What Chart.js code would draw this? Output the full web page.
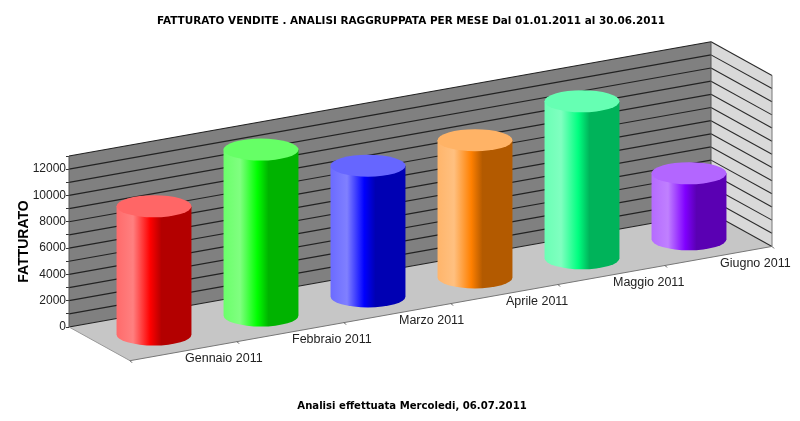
<!DOCTYPE html>
<html>
<head>
<meta charset="utf-8">
<title>Fatturato vendite</title>
<script src="https://cdn.jsdelivr.net/npm/chart.js@4"></script>
<style>
  html, body { margin: 0; padding: 0; background: #fff; }
  canvas { display: block; }
</style>
</head>
<body>
<canvas id="chart" width="800" height="421"></canvas>
<script>
/* ── Data ─────────────────────────────────────────────────────── */
const mesi      = ['Gennaio 2011', 'Febbraio 2011', 'Marzo 2011', 'Aprile 2011', 'Maggio 2011', 'Giugno 2011'];
const fatturato = [9790, 12650, 9980, 10470, 11980, 5060];

/* ── Style ────────────────────────────────────────────────────── */
const barHues   = ['#ff0000', '#00ff00', '#0000ff', '#ff8000', '#00ff80', '#8000ff'];
const titolo    = 'FATTURATO VENDITE . ANALISI RAGGRUPPATA PER MESE Dal 01.01.2011 al 30.06.2011';
const piede     = 'Analisi effettuata Mercoledi, 06.07.2011';

const SLOPE = 0.178;   // rise of the back wall per px of x
const DEPTH_X = 61;    // floor depth, oblique projection
const DEPTH_Y = 33.7;
const RY = 11;         // cylinder ellipse

function mix(hex, target, k) {
  const c = [1, 3, 5].map(i => parseInt(hex.slice(i, i + 2), 16));
  const out = c.map(v => Math.round(v + (target - v) * k));
  return `rgb(${out[0]},${out[1]},${out[2]})`;
}
const lighter = (hex, k) => mix(hex, 255, k);
const darker  = (hex, k) => mix(hex, 0, k);

/* ── 3D box: floor + walls ────────────────────────────────────── */
function poly(ctx, pts, fill) {
  ctx.beginPath();
  pts.forEach((p, i) => i ? ctx.lineTo(p[0], p[1]) : ctx.moveTo(p[0], p[1]));
  ctx.closePath();
  ctx.fillStyle = fill;
  ctx.fill();
}

function line(ctx, x1, y1, x2, y2, color, w) {
  ctx.beginPath();
  ctx.moveTo(x1, y1);
  ctx.lineTo(x2, y2);
  ctx.strokeStyle = color;
  ctx.lineWidth = w;
  ctx.stroke();
}

const box3d = {
  id: 'box3d',
  beforeDatasetsDraw(chart) {
    const { ctx, chartArea: a, scales: { x, y } } = chart;
    const rise = (a.right - a.left) * SLOPE;
    const L = a.left, R = a.right, T = a.top, B = a.bottom;

    ctx.save();
    // floor
    poly(ctx, [[L, B], [R, B - rise], [R + DEPTH_X, B - rise + DEPTH_Y], [L + DEPTH_X, B + DEPTH_Y]], '#c6c6c6');
    // back wall
    poly(ctx, [[L, B], [R, B - rise], [R, T - rise], [L, T]], '#808080');
    // side wall
    poly(ctx, [[R, B - rise], [R + DEPTH_X, B - rise + DEPTH_Y], [R + DEPTH_X, T - rise + DEPTH_Y], [R, T - rise]], '#d9d9d9');

    // grid lines, one per y tick
    y.ticks.forEach(t => {
      const py = y.getPixelForValue(t.value);
      line(ctx, L, py, R, py - rise, '#222', 1.2);
      line(ctx, R, py - rise, R + DEPTH_X, py - rise + DEPTH_Y, '#2b2b2b', 1.1);
    });
    // box edges
    line(ctx, R + DEPTH_X, T - rise + DEPTH_Y, R + DEPTH_X, B - rise + DEPTH_Y, '#777', 1);
    line(ctx, R, T - rise, R, B - rise, '#555', 1);
    line(ctx, L, T, L, B, '#555', 1);
    line(ctx, L, B, L + DEPTH_X, B + DEPTH_Y, '#999', 1);
    line(ctx, L + DEPTH_X, B + DEPTH_Y, R + DEPTH_X, B - rise + DEPTH_Y, '#777', 1);

    // category ticks on the front edge of the floor
    const step = (R - L) / mesi.length;
    for (let i = 0; i <= mesi.length; i++) {
      const fx = L + DEPTH_X + step * i;
      const fy = B + DEPTH_Y - step * i * SLOPE;
      line(ctx, fx, fy, fx + 2, fy + 2, '#555', 1);
    }
    ctx.restore();
  },

  /* cylinders sit on the chart's own bar elements */
  afterDatasetsDraw(chart) {
    const { ctx, chartArea: a } = chart;
    const bars = chart.getDatasetMeta(0).data;

    ctx.save();
    bars.forEach((bar, i) => {
      const hue = barHues[i];
      const lift = (bar.x - a.left) * SLOPE;
      const cx = bar.x + DEPTH_X / 2 + 1;
      const rx = bar.width / 2;
      const base = bar.base - lift + DEPTH_Y / 2 + 0.7;
      const top  = bar.y - lift + DEPTH_Y / 2 + 0.7;

      const g = ctx.createLinearGradient(cx - rx, 0, cx + rx, 0);
      g.addColorStop(0,    lighter(hue, 0.42));
      g.addColorStop(0.22, lighter(hue, 0.5));
      g.addColorStop(0.45, hue);
      g.addColorStop(0.6,  darker(hue, 0.30));
      g.addColorStop(1,    darker(hue, 0.30));

      ctx.beginPath();
      ctx.moveTo(cx - rx, top);
      ctx.lineTo(cx - rx, base);
      ctx.ellipse(cx, base, rx, RY, 0, Math.PI, 0, true);
      ctx.lineTo(cx + rx, top);
      ctx.closePath();
      ctx.fillStyle = g;
      ctx.fill();

      ctx.beginPath();
      ctx.ellipse(cx, top, rx, RY, 0, 0, Math.PI * 2);
      ctx.fillStyle = lighter(hue, 0.4);
      ctx.fill();
    });
    ctx.restore();
  },

  afterDraw(chart) {
    const { ctx, chartArea: a, scales: { x } } = chart;
    ctx.save();
    ctx.textBaseline = 'middle';

    // month labels follow the slanted floor edge
    ctx.textAlign = 'left';
    ctx.font = '12.5px "Liberation Sans"';
    ctx.fillStyle = '#222';
    mesi.forEach((m, i) => {
      const px = x.getPixelForValue(i);
      ctx.fillText(m, px + 62.5, a.bottom - (px - a.left) * SLOPE + 41);
    });

    ctx.textAlign = 'center';
    ctx.fillStyle = '#000';
    ctx.font = 'bold 10.45px "DejaVu Sans"';
    ctx.fillText(titolo, 411, 21.5);
    ctx.font = 'bold 10.1px "DejaVu Sans"';
    ctx.fillText(piede, 412, 406);
    ctx.restore();
  },
};

/* ── Chart ────────────────────────────────────────────────────── */
new Chart(document.getElementById('chart'), {
  type: 'bar',
  data: {
    labels: mesi,
    datasets: [{
      label: 'Fatturato',
      data: fatturato,
      backgroundColor: 'rgba(0,0,0,0)',
      barPercentage: 0.7,
      categoryPercentage: 1,
    }],
  },
  options: {
    responsive: false,
    animation: false,
    layout: { padding: { top: 156, bottom: 94, left: 0, right: 89 } },
    plugins: { legend: { display: false }, tooltip: { enabled: false } },
    scales: {
      x: {
        ticks: { display: false },
        grid: { display: false },
        border: { display: false },
        afterFit(scale) { scale.height = 0; },
      },
      y: {
        min: 0,
        max: 13000,
        afterFit(scale) { scale.width = 69; },
        title: {
          display: true,
          text: 'FATTURATO',
          color: '#000',
          font: { family: '"Liberation Sans"', size: 14, weight: 'bold' },
          padding: { top: 16, bottom: 0 },
        },
        ticks: {
          stepSize: 1000,
          autoSkip: false,
          padding: 0,
          color: '#222',
          font: { family: '"Liberation Sans"', size: 12 },
          callback: (v) => (v % 2000 === 0 ? String(v) : ''),
        },
        grid: { drawOnChartArea: false, drawTicks: true, tickLength: 3, color: '#333' },
        border: { display: false },
      },
    },
  },
  plugins: [box3d],
});
</script>
</body>
</html>
